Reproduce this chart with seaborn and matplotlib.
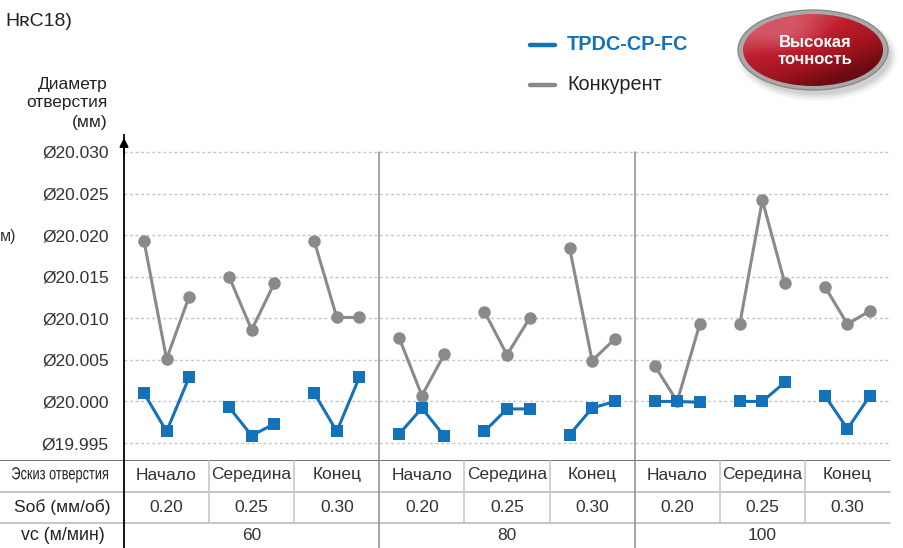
import numpy as np
import pandas as pd
import matplotlib.pyplot as plt
import seaborn as sns
from matplotlib.patches import Ellipse, PathPatch
from matplotlib.lines import Line2D
from matplotlib.colors import LinearSegmentedColormap
from matplotlib.textpath import TextPath
from matplotlib.font_manager import FontProperties
from matplotlib.transforms import Affine2D

# ---- data ----
speeds = ["60", "80", "100"]
positions = ["Начало", "Середина", "Конец"]
feeds = ["0.20", "0.25", "0.30"]
y_ticks = [19.995, 20.000, 20.005, 20.010, 20.015, 20.020, 20.025, 20.030]

# three measurements per cell (9 cells: 3 speeds x 3 feeds)
tpdc = [
    [20.0010, 19.9964, 20.0029], [19.9993, 19.9959, 19.9973], [20.0010, 19.9964, 20.0029],
    [19.9961, 19.9992, 19.9958], [19.9964, 19.9991, 19.9991], [19.9960, 19.9992, 20.0000],
    [20.0000, 20.0000, 19.9999], [20.0000, 20.0000, 20.0023], [20.0007, 19.9967, 20.0007],
]
competitor = [
    [20.0193, 20.0051, 20.0126], [20.0150, 20.0086, 20.0142], [20.0193, 20.0101, 20.0101],
    [20.0076, 20.0007, 20.0057], [20.0108, 20.0056, 20.0100], [20.0185, 20.0049, 20.0075],
    [20.0043, 20.0000, 20.0093], [20.0093, 20.0242, 20.0142], [20.0138, 20.0093, 20.0109],
]

BLUE = "#1472BA"
GRAY = "#8A8A8A"

sns.set_style("white")
plt.rcParams["font.family"] = ["Liberation Sans", "DejaVu Sans"]

W, H = 904, 548
fig = plt.figure(figsize=(W / 100, H / 100), dpi=100)


def box(x0, y0, x1, y1):
    return [x0 / W, 1 - y1 / H, (x1 - x0) / W, (y1 - y0) / H]


rows = []
for i, (blue, grey) in enumerate(zip(tpdc, competitor)):
    for j in range(3):
        x = i + 0.5 + (j - 1) * 0.265
        rows.append(dict(x=x, d=grey[j], series="Конкурент", seg=f"c{i}"))
        rows.append(dict(x=x, d=blue[j], series="TPDC-CP-FC", seg=f"t{i}"))
df = pd.DataFrame(rows)

# ---- main plot ----
ax = fig.add_axes(box(124, 135, 890, 460))
y0, y1 = 19.99296, 20.03204
sns.lineplot(data=df, x="x", y="d", hue="series", style="series", units="seg",
             estimator=None, hue_order=["Конкурент", "TPDC-CP-FC"],
             palette={"TPDC-CP-FC": BLUE, "Конкурент": GRAY},
             markers={"TPDC-CP-FC": "s", "Конкурент": "o"}, dashes=False,
             markersize=9, markeredgewidth=0, linewidth=2.2, legend=False, ax=ax)
ax.set_xlim(0, 9)
ax.set_ylim(y0, y1)
ax.set_xticks([])
ax.set_yticks(y_ticks)
ax.set_yticklabels([f"Ø{v:.3f}" for v in y_ticks], fontsize=12.5, color="#333333")
ax.tick_params(axis="y", length=0, pad=11)
ax.set_xlabel("")
ax.set_ylabel("")
ax.yaxis.grid(True, linestyle=(0, (2, 2)), color="#C4C4C4", linewidth=1)
ax.set_axisbelow(True)
for s in ["top", "right", "bottom"]:
    ax.spines[s].set_visible(False)
ax.spines["left"].set_color("black")
ax.spines["left"].set_linewidth(1.3)
ax.annotate("", xy=(0, 1.0), xytext=(0, 0.93), xycoords="axes fraction",
            arrowprops=dict(arrowstyle="-|>", color="black", lw=1.3, mutation_scale=13))
top_frac = (20.030 - y0) / (y1 - y0)
for g in (3, 6):
    ax.axvline(g, ymax=top_frac, color="#8C8C8C", lw=1.1)

# ---- table ----
tax = fig.add_axes(box(0, 460, W, H))
tax.set_xlim(0, W)
tax.set_ylim(88, 0)
tax.axis("off")
x_left, x_right = 124, 890
cw = (x_right - x_left) / 9
tax.plot([0, x_right], [0, 0], color="#666666", lw=1.3)
for yy in (32, 63):
    tax.plot([0, x_right], [yy, yy], color="#B5B5B5", lw=1.1)
tax.plot([x_left, x_left], [0, 88], color="black", lw=1.3)
for k in range(1, 9):
    xx = x_left + k * cw
    if k % 3 == 0:
        tax.plot([xx, xx], [0, 88], color="#8C8C8C", lw=1.1)
    else:
        tax.plot([xx, xx], [0, 63], color="#C4C4C4", lw=1.1)

# condensed row header: squeeze a text path horizontally
fp = FontProperties(family="Liberation Sans", size=12.5)
tp = TextPath((0, 0), "Эскиз отверстия", prop=fp)
ext = tp.get_extents()
px = 100 / 72
sx = 96 / (ext.width * px)
tr = Affine2D().translate(-ext.x0 - ext.width / 2, -ext.y0 - ext.height / 2) \
    .scale(sx * px, px).translate(60, H - 475)
fig.add_artist(PathPatch(tp, transform=tr, color="#222222", lw=0))

tax.text(62, 47, "Sоб (мм/об)", ha="center", va="center", fontsize=12.5, color="#222222")
tax.text(63, 76, "vc (м/мин)", ha="center", va="center", fontsize=12.8, color="#222222")
for i in range(9):
    cx = x_left + (i + 0.5) * cw
    tax.text(cx, 15, positions[i % 3], ha="center", va="center", fontsize=12.5, color="#333333")
    tax.text(cx, 47, feeds[i % 3], ha="center", va="center", fontsize=12.5, color="#333333")
for g, sp in enumerate(speeds):
    cx = x_left + (g * 3 + 1.5) * cw
    tax.text(cx, 76, sp, ha="center", va="center", fontsize=12.5, color="#333333")

# ---- header texts ----
fig.text(5 / W, 1 - 22 / H, "HʀC18)", fontsize=14, va="center", ha="left", color="#222222")
fig.text(0 / W, 1 - 236 / H, "м)", fontsize=11.5, va="center", ha="left", color="#333333")
for txt, yy in [("Диаметр", 84), ("отверстия", 103), ("(мм)", 122)]:
    fig.text(108 / W, 1 - yy / H, txt, fontsize=12.5, ha="right", va="center", color="#222222")

# legend
fig.add_artist(Line2D([530 / W, 555 / W], [1 - 45 / H] * 2, color=BLUE, lw=3.2))
fig.add_artist(Line2D([530 / W, 555 / W], [1 - 85 / H] * 2, color=GRAY, lw=3.2))
fig.text(567 / W, 1 - 45 / H, "TPDC-CP-FC", fontsize=14.3, fontweight="bold", color=BLUE,
         va="center", ha="left")
fig.text(567 / W, 1 - 85 / H, "Конкурент", fontsize=14.3, color="#222222", va="center", ha="left")

# badge
bax = fig.add_axes(box(720, 0, 904, 115))
bax.set_xlim(720, 904)
bax.set_ylim(115, 0)
bax.axis("off")
for k, a in enumerate([0.05, 0.06, 0.08, 0.1]):
    bax.add_patch(Ellipse((817, 56), 160 - 4 * k, 90 - 4 * k, color="#555555", alpha=a, lw=0))
bax.add_patch(Ellipse((813, 50), 150, 80, facecolor="#A8A8A8", edgecolor="#8A8A8A", lw=1))
inner = Ellipse((813, 50), 140, 72, facecolor="none", lw=0)
bax.add_patch(inner)
gx, gy = np.meshgrid(np.linspace(-1, 1, 200), np.linspace(-1, 1, 120))
shade = np.clip(0.55 + 0.3 * gx + 0.4 * gy - 0.25 * np.exp(-((gx + 0.3) ** 2 + (gy + 0.4) ** 2) * 3), 0, 1)
cmap = LinearSegmentedColormap.from_list("badge", ["#D45565", "#BE1E2E", "#A3141F", "#6A0A12"])
im = bax.imshow(shade, cmap=cmap, extent=[743, 883, 86, 14], aspect="auto", zorder=3)
im.set_clip_path(inner)
bax.text(815, 51, "Высокая\nточность", ha="center", va="center", fontsize=12,
         fontweight="bold", color="white", linespacing=1.15, zorder=4)

fig.savefig("out.png", dpi=100)
